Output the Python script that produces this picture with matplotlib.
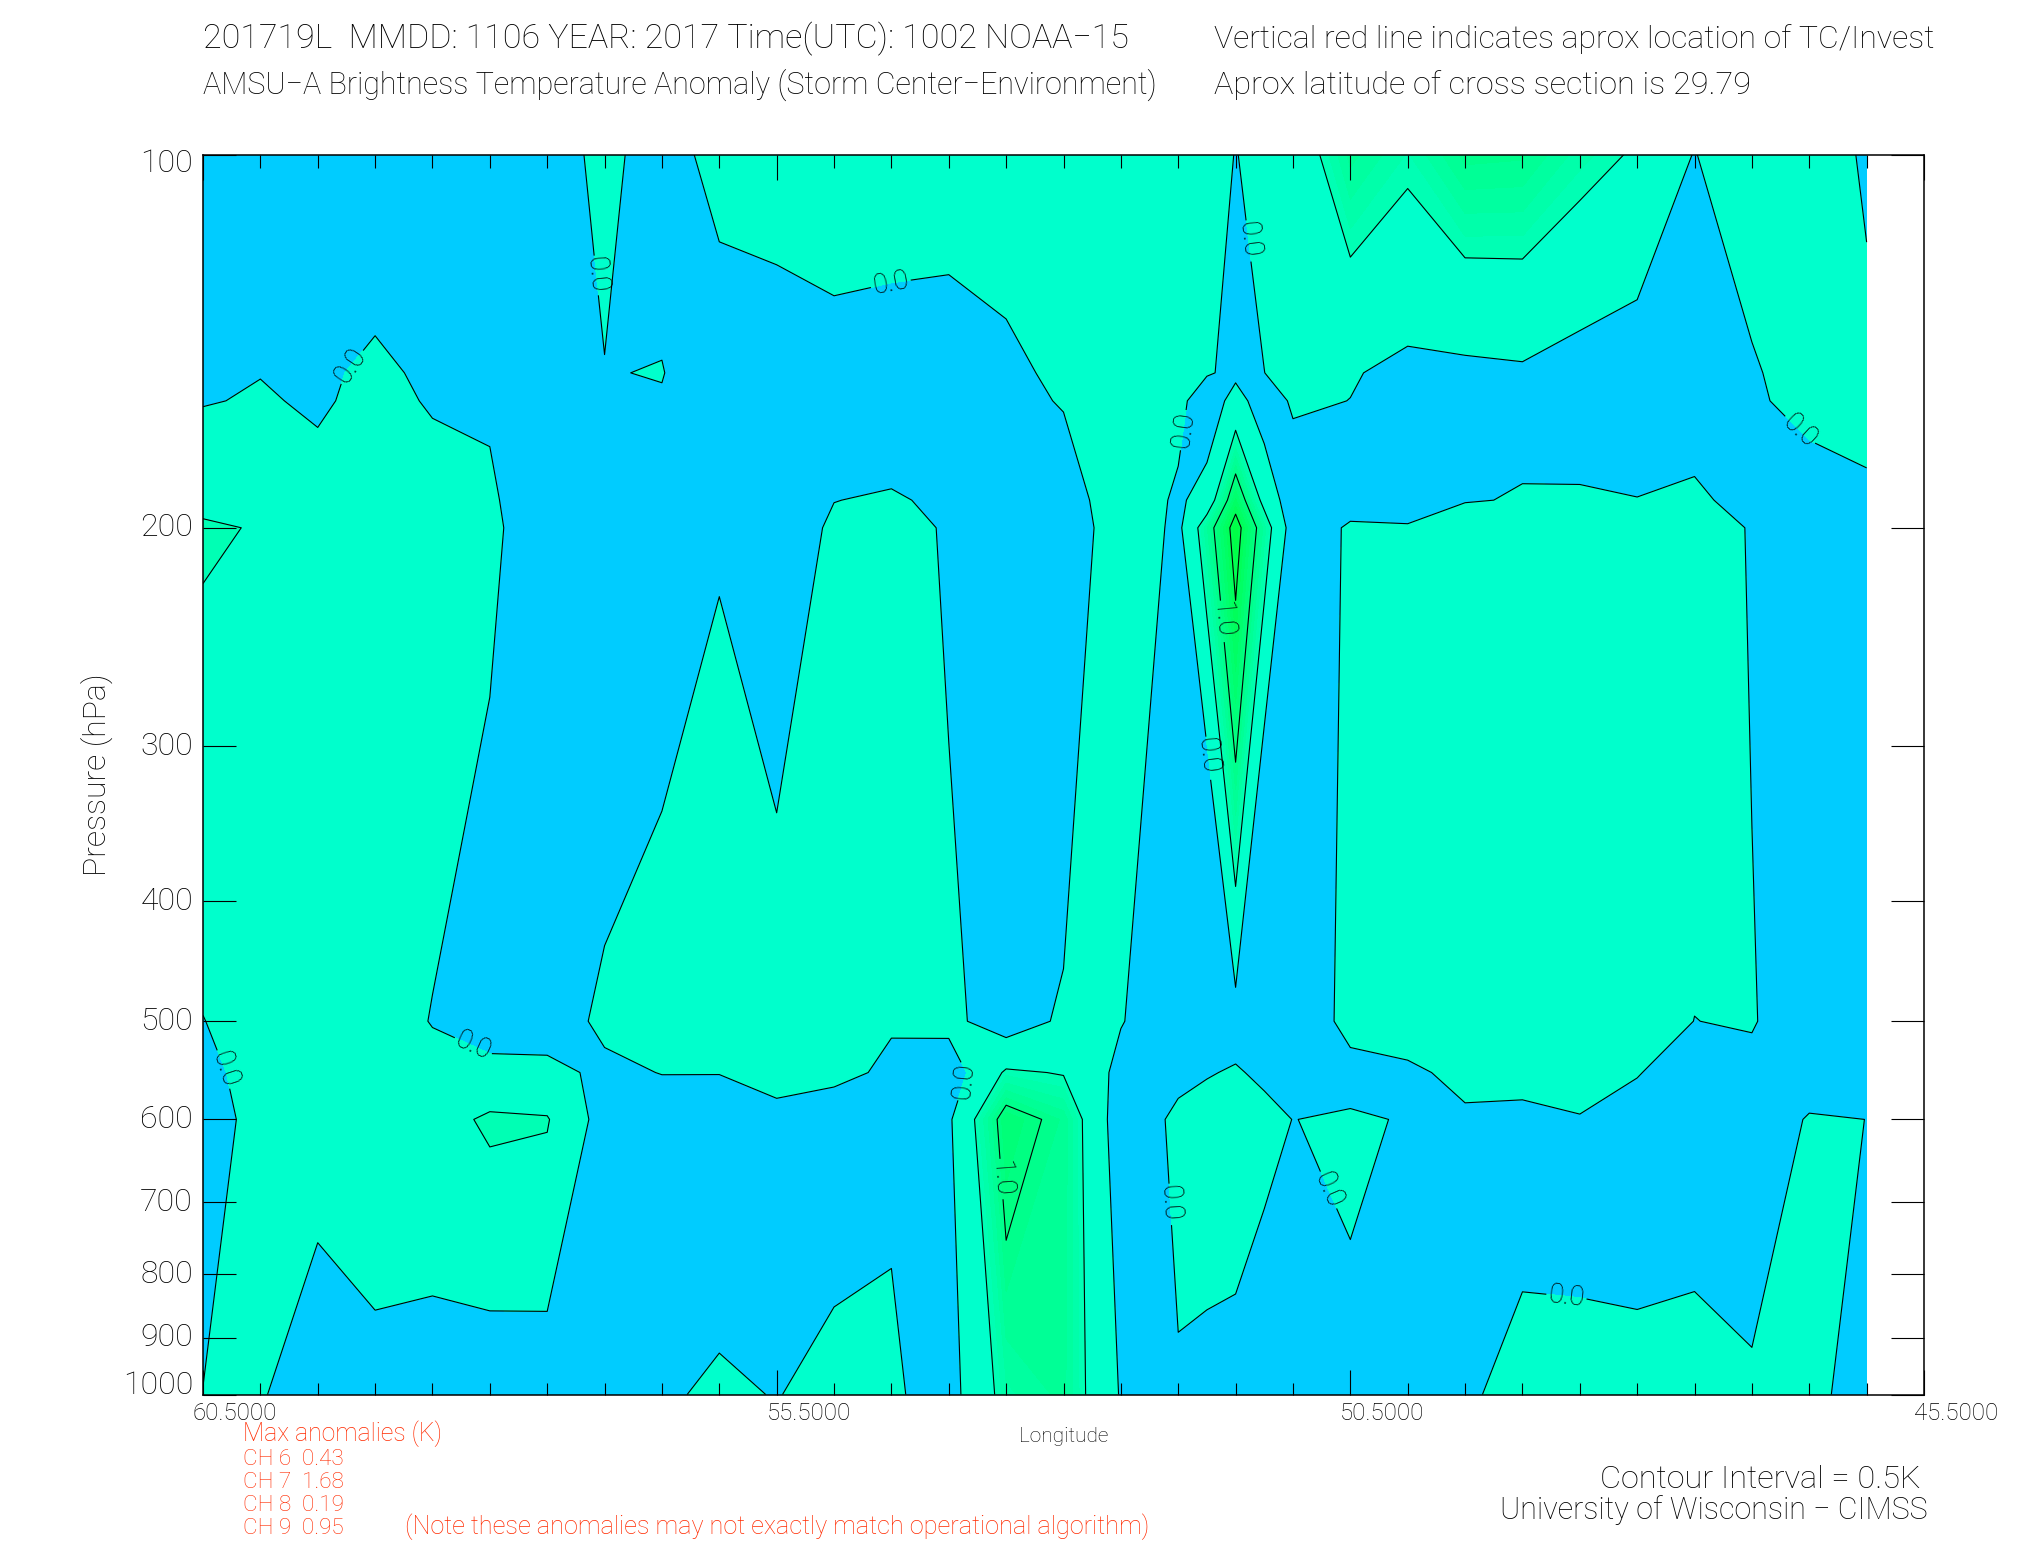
import matplotlib
matplotlib.use("Agg")
import matplotlib.pyplot as plt
from matplotlib.ticker import NullLocator

plt.rcParams['font.family'] = ['Roboto', 'DejaVu Sans']
plt.rcParams['font.weight'] = 'light'

lons = [60.5, 60.0, 59.5, 59.0, 58.5, 58.0, 57.5, 57.0, 56.5, 56.0,
        55.5, 55.0, 54.5, 54.0, 53.5, 53.0, 52.5, 52.0, 51.75, 51.5, 51.25, 51.0,
        50.5, 50.0, 49.5, 49.0, 48.5, 48.0, 47.5, 47.0, 46.5, 46.0]
pressure = [100, 150, 158, 190, 200, 500, 550, 600, 1000]

# anomaly (K) at each pressure level, one value per longitude
t100 = [-.5, -.5, -.5, -.36, -.4, -.4, -.32, .18, -.32, .25, .25, .345, .35, .3, .35,
        .35, .35, .3, .145, -.01, .1, .205, .84, .59, .94, .92, .65, .455, -.02, .4, .3, -.07]
t150 = [-.14, -.01, -.08, .09, -.086, -.067, -.3, -.02, .024, -.46, -.3, -.23, -.3, -.3, -.14,
        .13, .3, .18, .04, -.1, -.002, .11, .03, -.1, -.1, -.06, -.19, -.28, -.3, -.08, .34, .128]
t158 = [-.024, .036, -.05, .11, -.033, -.043, -.294, -.086, -.045, -.388, -.284, -.185, -.233, -.25, -.15,
        .035, .312, .14, -.3, .185, -.25, .06, -.004, -.114, -.082, -.046, -.146, -.222, -.225, -.094, .204, .093]
t190 = [.42, .38, .15, .26, .17, .055, -.27, -.35, -.32, -.1, -.22, -.005, .033, -.06, -.19,
        -.3, .36, -.08, .2, 1.32, .36, -.3, -.14, -.17, -.01, .01, .03, .008, .077, -.15, -.34, -.049]
t200 = [.54, .48, .3, .3, .23, .085, -.265, -.43, -.3, -.03, -.2, .05, .206, -.058, -.2,
        -.41, .36, -.11, .785, 1.68, .75, -.235, .044, .03, .1, .15, .2, .15, .25, -.035, -.3, -.1]
t500 = [-.01, .2, .25, .23, -.02, -.26, -.3, .12, .35, .3, .23, .41, .03, .12, -.25,
        .075, .02, -.27, -1.6, -.19, -1.78, -.48, .19, .15, .2, .2, .25, .2, -.004, .036, -.32, -.3]
t550 = [-.13, .19, .24, .225, .15, .16, .16, -.12, .015, .012, .082, .094, -.064, -.25, .56,
        .476, -.125, -.094, -.027, .04, -.08, -.2, -.19, -.05, .07, .08, .15, .01, -.1, -.13, -.31, -.2]
t600 = [-.25, .18, .22, .22, .32, .57, .53, -.2, -.32, -.28, -.07, -.22, -.055, -.07, 1.2,
        .877, -.27, .08, .175, .27, .13, -.006, .06, -.03, -.04, -.06, -.02, -.08, -.1, -.4, .05, -.002]
t1000 = [.01, .05, -.35, -.125, -.23, -.32, -.295, -.25, -.05, .0636, -.015, .132, .06, -.18, .67,
         .836, -.035, -.03, -.1, -.2, -.35, -.2, -.1, -.1, -.02, .046, .014, .046, .077, .106, .1, -.16]
anomaly = [t100, t150, t158, t190, t200, t500, t550, t600, t1000]

fill_levels = [-5, 0, .5, .6, .7, .8, .9, 1.0, 1.1, 1.2, 1.3, 1.4, 1.5, 1.6, 1.7]
fill_colors = ['#00ccff', '#00ffcc', '#00ffb4', '#00ffaa', '#00ffa0', '#00ff96', '#00ff8c',
               '#00ff82', '#00ff78', '#00ff6e', '#00ff64', '#00ff5a', '#00ff50', '#00ff46']

y_ticks = [100, 200, 300, 400, 500, 600, 700, 800, 900, 1000]
major_lons = [60.5, 55.5, 50.5, 45.5]
major_labels = ['60.5000', '55.5000', '50.5000', '45.5000']
minor_lons = [60.0 - .5 * i for i in range(29)]
minor_lons = [v for v in minor_lons if v not in major_lons]

zero_labels = [(59.17, 149.3), (57.02, 124.7), (54.51, 126.5), (51.37, 117), (51.91, 167),
               (46.51, 164.3), (51.72, 305), (60.31, 546), (58.13, 520), (53.85, 559),
               (52.03, 700), (50.64, 680), (48.6, 805)]
one_labels = [(51.65, 237.3), (53.51, 669)]

fig = plt.figure(figsize=(20.25, 15.5), dpi=100)
ax = fig.add_axes([203 / 2025, 1 - 1394.5 / 1550, (1924 - 203) / 2025, (1394.5 - 154.5) / 1550])
ax.set_yscale('log')
ax.set_xlim(60.5, 45.5)
ax.set_ylim(1000, 100)

ax.contourf(lons, pressure, anomaly, levels=fill_levels, colors=fill_colors, antialiased=False)
cs_other = ax.contour(lons, pressure, anomaly, levels=[.5, 1.5], colors='k', linewidths=.8)
cs_zero = ax.contour(lons, pressure, anomaly, levels=[0], colors='k', linewidths=.8)
cs_one = ax.contour(lons, pressure, anomaly, levels=[1.0], colors='k', linewidths=.8)
texts = ax.clabel(cs_zero, fmt='%.1f', fontsize=20, manual=zero_labels, inline=True, inline_spacing=2)
texts += ax.clabel(cs_one, fmt='%.1f', fontsize=20, manual=one_labels, inline=True, inline_spacing=2)
for t in texts:
    t.set_color('black')

ax.yaxis.set_minor_locator(NullLocator())
ax.set_yticks(y_ticks)
ax.set_yticklabels([])
ax.tick_params(axis='y', which='major', direction='in', left=True, right=True, length=24, width=.8)
ax.set_xticks(major_lons)
ax.set_xticks(minor_lons, minor=True)
ax.set_xticklabels([])
ax.tick_params(axis='x', which='major', direction='in', top=True, bottom=True, length=18, width=.8)
ax.tick_params(axis='x', which='minor', direction='in', top=True, bottom=True, length=9, width=.8)
for s in ax.spines.values():
    s.set_linewidth(1.1)

for v in y_ticks:
    off = 0
    if v == 100:
        off = -9
    if v == 1000:
        off = 9
    ax.annotate(str(v), (60.5, v), xytext=(-10, off), textcoords='offset pixels',
                ha='right', va='center', fontsize=23, color='black')
for v, lab in zip(major_lons, major_labels):
    ax.annotate(lab, (v, 1000), xytext=(-10, -25), textcoords='offset pixels',
                ha='left', va='baseline', fontsize=17.3, color='black')


def label(x, y, s, size, color='black', **kw):
    fig.text(x / 2025, 1 - y / 1550, s, fontsize=size, color=color, va='baseline', **kw)


label(203, 48, '201719L  MMDD: 1106 YEAR: 2017 Time(UTC): 1002 NOAA\u221215', 24.5)
label(203, 94, 'AMSU\u2212A Brightness Temperature Anomaly (Storm Center\u2212Environment)', 22)
label(1214, 48, 'Vertical red line indicates aprox location of TC/Invest', 23)
label(1214, 94, 'Aprox latitude of cross section is 29.79', 23.3)
label(106, 775, 'Pressure (hPa)', 23, rotation=90, ha='center', rotation_mode='anchor')
label(1019, 1442, 'Longitude', 15)

red = '#ff2a00'
label(243, 1441, 'Max anomalies (K)', 17.8, color=red)
label(243, 1465, 'CH 6  0.43', 16.2, color=red)
label(243, 1488, 'CH 7  1.68', 16.2, color=red)
label(243, 1511, 'CH 8  0.19', 16.2, color=red)
label(243, 1534, 'CH 9  0.95', 16.2, color=red)
label(405, 1534, '(Note these anomalies may not exactly match operational algorithm)', 18.2, color=red)

label(1600, 1488, 'Contour Interval = 0.5K', 23.4)
label(1500, 1519, 'University of Wisconsin \u2212 CIMSS', 22)

fig.savefig('out.png', dpi=100)
